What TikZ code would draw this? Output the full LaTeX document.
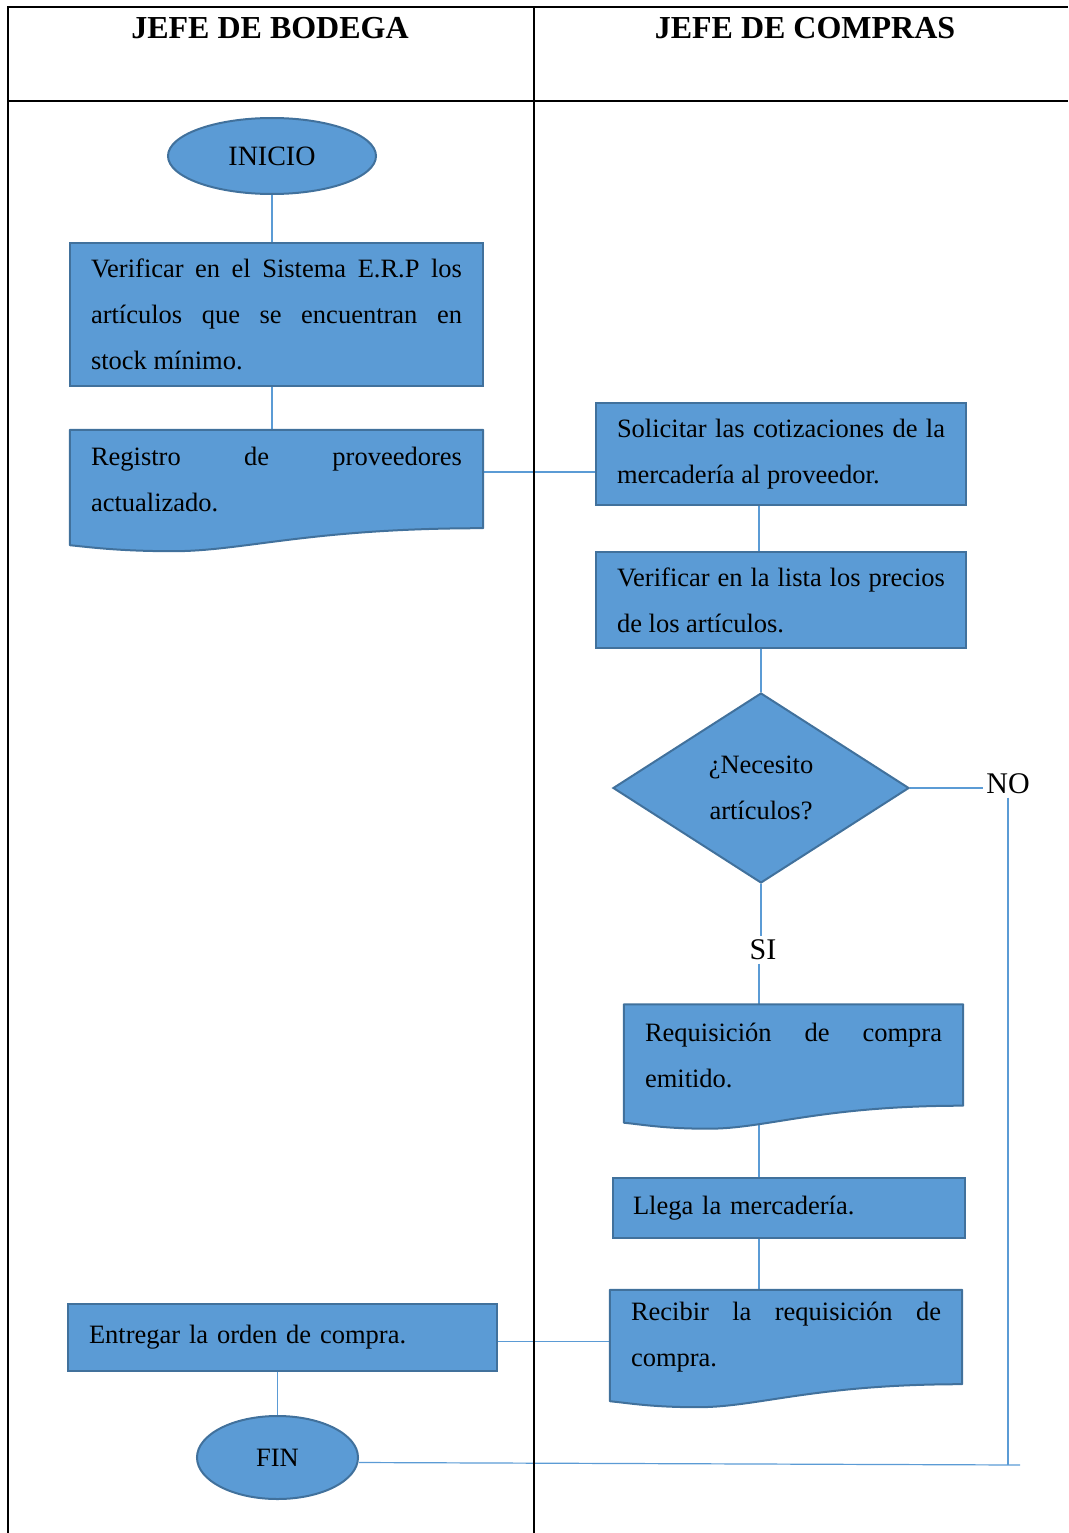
\documentclass[tikz,border=0pt]{standalone}
\usepackage{fontspec}
\setmainfont{Liberation Serif}
\usepackage{tikz}
\usetikzlibrary{shapes.geometric,calc}
\pgfdeclarelayer{background}
\pgfsetlayers{background,main}
\definecolor{azul}{HTML}{5B9BD5}
\definecolor{bordeazul}{HTML}{41719C}
\newcommand{\cajafont}{\fontsize{26.5}{46}\selectfont}
\tikzstyle{box}=[rectangle, draw=bordeazul, fill=azul, line width=2pt, inner xsep=21pt, inner ysep=0pt, align=justify, font=\cajafont]
\tikzstyle{docbox}=[rectangle, inner xsep=21pt, inner ysep=0pt, align=justify, font=\cajafont]
\tikzstyle{docfill}=[draw=bordeazul, fill=azul, line width=2pt, line join=round]
\tikzstyle{term}=[ellipse, draw=bordeazul, fill=azul, line width=2pt, inner sep=0pt, font=\cajafont]
\tikzstyle{decision}=[diamond, draw=bordeazul, fill=azul, line width=2pt, inner sep=0pt, align=center, font=\cajafont]
\tikzstyle{link}=[draw=azul, line width=1.2pt]
\tikzstyle{lane}=[draw=black, line width=2.2pt]
\newcommand{\docpath}[1]{%
  \path[docfill] (#1.north west) -- (#1.north east) -- (#1.south east)
    .. controls ($(#1.south west)!0.58!(#1.south east)$) and ($(#1.south west)!0.42!(#1.south east)+(0,23)$)
    .. ($(#1.south west)!0.25!(#1.south east)+(0,23)$)
    .. controls ($(#1.south west)!0.12!(#1.south east)+(0,23)$) and ($(#1.south west)+(20,19)$)
    .. ($(#1.south west)+(0,17)$) -- cycle;}

\begin{document}
\begin{tikzpicture}[x=1pt, y=-1pt]
  \useasboundingbox (0,0) rectangle (1068,1533);
  % carriles
  \draw[lane] (8,1533) -- (8,7) -- (1068,7);
  \draw[lane] (8,101) -- (1068,101);
  \draw[lane] (534,7) -- (534,1533);
  \node (h1) at (270,28) {\fontsize{32}{38}\selectfont\bfseries JEFE DE BODEGA};
  \node (h2) at (805,28) {\fontsize{32}{38}\selectfont\bfseries JEFE DE COMPRAS};

  \begin{scope}
    \node (ini) at (272,156)[term, minimum width=208pt, minimum height=76pt] {\fontsize{28}{34}\selectfont INICIO};
    \node (b1) at (276.5,314)[box, text width=371pt, minimum height=143pt]
      {Verificar en el Sistema E.R.P los\linebreak artículos que se encuentran en\linebreak stock mínimo.};
    \node (reg) at (276.5,479)[docbox, text width=371pt, minimum height=98pt]
      {Registro de proveedores\linebreak actualizado.};
    \node (sol) at (781,454)[box, text width=328pt, minimum height=102pt]
      {Solicitar las cotizaciones de la\linebreak mercadería al proveedor.};
    \node (lis) at (781,600)[box, text width=328pt, minimum height=96pt]
      {Verificar en la lista los precios\linebreak de los artículos.};
    \node (dia) at (761,788)[decision, minimum width=296pt, minimum height=190pt]
      {¿Necesito\\artículos?};
    \node (no) at (1008,784) {\fontsize{30}{36}\selectfont NO};
    \node (si) at (763,950) {\fontsize{30}{36}\selectfont SI};
    \node (req) at (793.5,1055)[docbox, text width=297pt, minimum height=101pt]
      {Requisición de compra\linebreak emitido.};
    \node (lla) at (789,1208)[box, align=left, inner xsep=20pt, text width=312pt, minimum height=60pt]
      {Llega la mercadería.};
    \node (rec) at (786,1337)[docbox, text width=310pt, minimum height=94pt]
      {Recibir la requisición de\linebreak compra.};
    \node (ent) at (282.5,1337.5)[box, align=left, text width=387pt, minimum height=67pt]
      {Entregar la orden de compra.};
    \node (fin) at (277.5,1457.5)[term, minimum width=161pt, minimum height=83pt] {FIN};
    \coordinate (cx) at (759,0);
    \coordinate (nc) at (1020,1465);
  \end{scope}

  \begin{pgfonlayer}{background}
    \path[link] (ini.south) -- (ini.south |- b1.north);
    \path[link] (ini.south |- b1.south) -- (ini.south |- reg.north);
    \path[link] ([yshift=7pt]reg.east) -- ([yshift=7pt]reg.east -| sol.west);
    \path[link] (cx |- sol.south) -- (cx |- lis.north);
    \path[link] (dia.north |- lis.south) -- (dia.north);
    \path[link] (dia.east) -- (dia.east -| no.west);
    \path[link] (no.south) -- (no.south |- nc);
    \path[link] ([yshift=-5pt]fin.east) -- (nc);
    \path[link] (dia.south) -- (dia.south |- si.north);
    \path[link] (cx |- si.south) -- (cx |- req.north);
    \path[link] (cx |- req.south) -- (cx |- lla.north);
    \path[link] (cx |- lla.south) -- (cx |- rec.north);
    \path[link] ([yshift=-4pt]ent.east) -- ([yshift=-4pt]ent.east -| rec.west);
    \path[link] (fin.north) -- (fin.north |- ent.south);
    \docpath{reg}
    \docpath{req}
    \docpath{rec}
  \end{pgfonlayer}
\end{tikzpicture}
\end{document}
